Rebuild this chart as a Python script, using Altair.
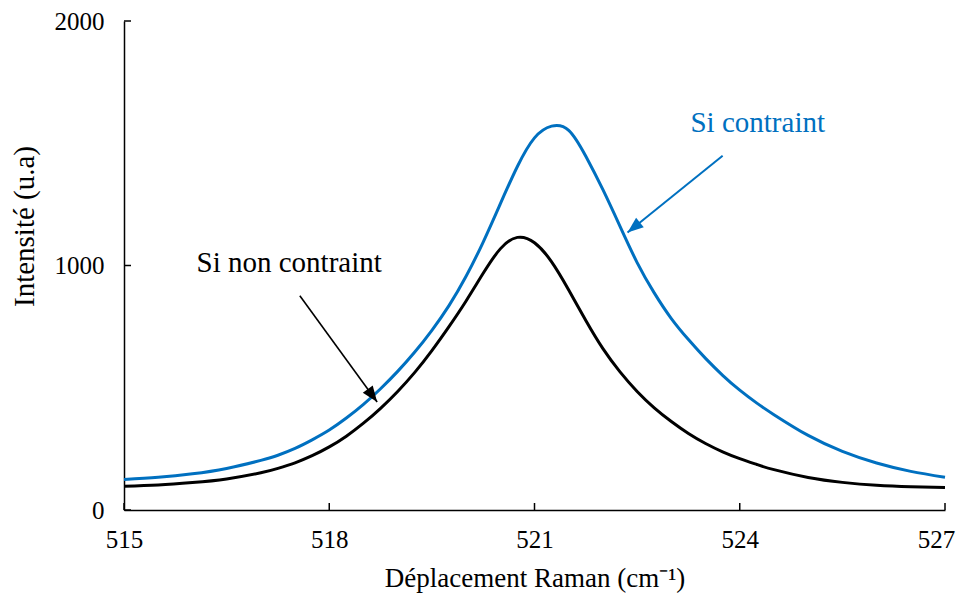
import math
import altair as alt
import pandas as pd

# ---------------- data ----------------
wavenumber = [515, 515.5, 516, 516.5, 517, 517.25, 517.5, 517.75, 518, 518.25, 518.5, 518.75,
              519, 519.25, 519.5, 519.75, 520, 520.25, 520.5, 520.75, 521, 521.25,
              521.5, 521.75, 522, 522.25, 522.5, 522.75, 523, 523.25, 523.5, 523.75,
              524, 524.25, 524.5, 525, 525.5, 526, 526.5, 527]

si_non_contraint = [97, 102, 112, 127, 152, 170, 193, 222, 258, 302, 355, 416,
                    485, 563, 652, 750, 855, 968, 1068, 1115, 1093, 1015,
                    900, 775, 660, 565, 485, 418, 362, 313, 272, 238,
                    210, 186, 165, 133, 113, 101, 95, 92]

si_contraint = [125, 134, 148, 170, 203, 224, 252, 287, 327, 376, 432, 496,
                567, 646, 735, 836, 956, 1096, 1252, 1405, 1522, 1570,
                1553, 1447, 1310, 1160, 1012, 888, 783, 697, 620, 551,
                490, 437, 390, 305, 240, 192, 158, 134]

series_names = ["Si non contraint", "Si contraint"]
series_colors = ["#000000", "#0070C0"]

x_ticks = [515, 518, 521, 524, 527]
y_ticks = [0, 1000, 2000]

# annotations (data coordinates)
label_text = ["Si non contraint", "Si contraint"]
label_x = [516.06, 523.28]
label_y = [974, 1546]

arrow_x_start = [517.57, 523.75]
arrow_y_start = [876, 1449]
arrow_x_tip = [518.70, 522.36]
arrow_y_tip = [442, 1135]

# ---------------- layout ----------------
W, H = 821, 489
X_DOM = [515, 527]
Y_DOM = [0, 2000]
FONT = "Liberation Serif"

xs = alt.Scale(domain=X_DOM, nice=False, zero=False)
ys = alt.Scale(domain=Y_DOM, nice=False, zero=False)
cscale = alt.Scale(domain=series_names, range=series_colors)

df = pd.DataFrame({
    "x": wavenumber + wavenumber,
    "y": si_non_contraint + si_contraint,
    "serie": [series_names[0]] * len(wavenumber) + [series_names[1]] * len(wavenumber),
})

x_axis = alt.Axis(values=x_ticks, format="d", grid=False, ticks=False, tickSize=0,
                  title="Déplacement Raman (cm⁻¹)",
                  labelFont=FONT, labelFontSize=25, labelColor="black",
                  labelBaseline="alphabetic", labelPadding=37,
                  labelOffset={"condition": {"test": "datum.value == 527", "value": -9},
                               "value": 0},
                  labelFlush=False, labelOverlap=False, labelBound=False,
                  domainColor="black", domainWidth=1.5,
                  titleFont=FONT, titleFontSize=27, titleFontWeight="normal",
                  titleColor="black", titleBaseline="alphabetic", titleY=76)

y_axis = alt.Axis(values=y_ticks, format="d", grid=False, ticks=False, tickSize=0,
                  title="Intensité (u.a)",
                  labelFont=FONT, labelFontSize=25, labelColor="black",
                  labelPadding=20, labelFlush=False, labelOverlap=False, labelBound=False,
                  domainColor="black", domainWidth=1.5,
                  titleFont=FONT, titleFontSize=29, titleFontWeight="normal",
                  titleColor="black", titleAngle=270, titleAlign="center",
                  titleBaseline="middle", titleX=-100, titleY=205)


def X(field):
    return alt.X(field, scale=xs, axis=x_axis)


def Y(field):
    return alt.Y(field, scale=ys, axis=y_axis)


COLOR = alt.Color("serie:N", scale=cscale, legend=None)

lines = alt.Chart(df).mark_line(strokeWidth=3, interpolate="natural").encode(
    x=X("x:Q"), y=Y("y:Q"), color=COLOR, detail="serie:N",
)

# inward ticks
xt = alt.Chart(pd.DataFrame({"t": x_ticks})).mark_rule(color="black", strokeWidth=1.5).encode(
    x=X("t:Q"), y=alt.value(H), y2=alt.value(H - 7),
)
yt = alt.Chart(pd.DataFrame({"t": y_ticks})).mark_rule(color="black", strokeWidth=1.5).encode(
    y=Y("t:Q"), x=alt.value(0), x2=alt.value(7),
)

# arrows
px_x = W / (X_DOM[1] - X_DOM[0])
px_y = H / (Y_DOM[1] - Y_DOM[0])
angles = []
for i in range(2):
    dx = (arrow_x_tip[i] - arrow_x_start[i]) * px_x
    dys = -(arrow_y_tip[i] - arrow_y_start[i]) * px_y
    angles.append(math.degrees(math.atan2(dx, -dys)) % 360)

arrows_df = pd.DataFrame({
    "x1": arrow_x_start, "y1": arrow_y_start,
    "x2": arrow_x_tip, "y2": arrow_y_tip,
    "serie": series_names, "ang": angles,
})

arrow_layers = []
for i, w in enumerate([1.6, 2.0]):
    sub = arrows_df.iloc[[i]]
    arrow_layers.append(
        alt.Chart(sub).mark_rule(strokeWidth=w).encode(
            x=X("x1:Q"), y=Y("y1:Q"), x2="x2:Q", y2="y2:Q", color=COLOR,
        )
    )

heads = alt.Chart(arrows_df).mark_point(
    shape="M0,0L0.5,1.3L-0.5,1.3Z", filled=True, opacity=1, size=600, strokeWidth=0
).encode(
    x=X("x2:Q"), y=Y("y2:Q"),
    angle=alt.Angle("ang:Q", scale=None),
    color=COLOR,
)

texts = alt.Chart(pd.DataFrame({"x": label_x, "y": label_y, "txt": label_text,
                                "serie": series_names})).mark_text(
    align="left", baseline="alphabetic", font=FONT, fontSize=29
).encode(
    x=X("x:Q"), y=Y("y:Q"), text="txt:N", color=COLOR,
)

chart = alt.layer(lines, xt, yt, *arrow_layers, heads, texts).properties(
    width=W, height=H,
    autosize=alt.AutoSizeParams(type="none"),
    padding={"left": 116, "top": 13, "right": 11, "bottom": 84},
    background="white",
).configure_view(stroke=None)

chart.save("out.html", embed_options={"renderer": "svg", "actions": False})
